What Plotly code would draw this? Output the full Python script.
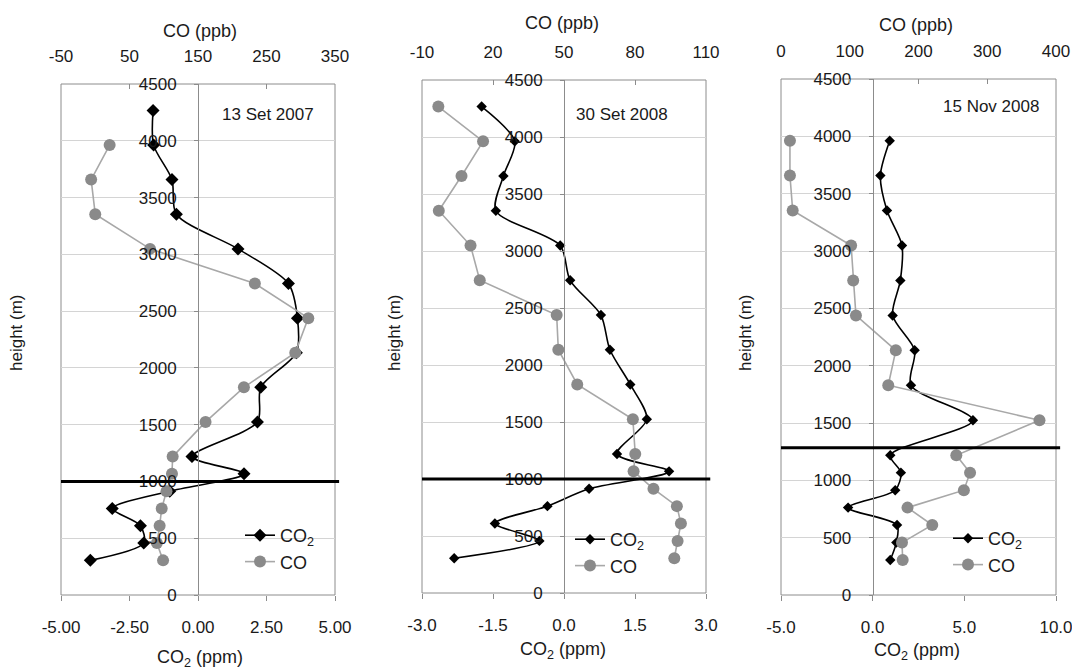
import plotly.graph_objects as go

# ── Dados ────────────────────────────────────────────────────────────────────
HEIGHTS = [305, 457, 610, 762, 914, 1067, 1219, 1524, 1829, 2134,
           2438, 2743, 3048, 3353, 3658, 3962, 4267]

CO2_P1 = [-3.93, -1.98, -2.10, -3.13, -1.03, 1.68, -0.22, 2.17, 2.29, 3.59,
          3.63, 3.30, 1.46, -0.79, -0.95, -1.62, -1.64]
CO_P1 = [99, 90, 94, 97, 104, 112, 113, 161, 217, 292,
         311, 233, 80, 0, -6, 21]

CO2_P2 = [-2.32, -0.52, -1.46, -0.35, 0.53, 2.22, 1.12, 1.75, 1.40, 0.97,
          0.78, 0.13, -0.08, -1.44, -1.28, -1.04, -1.74]
CO_P2 = [96.6, 98.0, 99.4, 97.7, 87.8, 79.4, 80.1, 79.1, 55.6, 47.6,
         46.9, 14.4, 10.5, -2.9, 6.7, 15.8, -3.1]

CO2_P3 = [0.96, 1.29, 1.33, -1.34, 1.23, 1.54, 0.96, 5.47, 2.09, 2.29,
          1.09, 1.51, 1.60, 0.78, 0.42, 0.93]
CO_P3 = [177, 176, 220, 184, 266, 275, 255, 376, 156, 167,
         109, 105, 102, 17, 13, 13]

DATES = ["13 Set 2007", "30 Set 2008", "15 Nov 2008"]
MIX_HEIGHT = [1000, 1000, 1285]

CO2_TICKS = [[-5, -2.5, 0, 2.5, 5], [-3, -1.5, 0, 1.5, 3], [-5, 0, 5, 10]]
CO2_DEC = [2, 1, 1]
CO_TICKS = [[-50, 50, 150, 250, 350], [-10, 20, 50, 80, 110], [0, 100, 200, 300, 400]]
HEIGHT_TICKS = [0, 500, 1000, 1500, 2000, 2500, 3000, 3500, 4000, 4500]

# ── Estilo ───────────────────────────────────────────────────────────────────
W, H = 1080, 669
OFF = 8   # margem do <body> da página
FONT = "Liberation Sans, Arial, sans-serif"
TXT = "#1a1a1a"
GRID = "#d4d4d4"
BOX = "#8c8c8c"
CO_COLOR = "#8a8a8a"
CO_LINE = "#a8a8a8"

# caixas dos painéis em pixels da imagem (esq, dir, topo, base)
PANELS = [(61, 335, 84, 595), (422, 706, 80, 593), (781, 1056, 79, 595)]
DIAMOND = [10, 8, 8]
HEIGHT_LBL_X = [17, 395, 746]
DATE_XY = [(268, 114), (622, 114), (991, 106)]
TOP_TITLE_XY = [(200, 31), (562, 23), (916, 25)]
BOT_TITLE_XY = [(200, 658), (563, 650), (917, 651)]
LEGEND_XY = [(240, 517), (570, 521), (948, 520)]


def px(x):
    return (x - OFF) / (W - OFF)


def py(y):
    return 1 - (y - OFF) / (H - OFF)


def label(v, dec):
    return f"{v:.{dec}f}" if dec else f"{v:g}"


fig = go.Figure()
layout = {}
shapes = []
annotations = []

data = [(CO2_P1, CO_P1), (CO2_P2, CO_P2), (CO2_P3, CO_P3)]

for i, (co2, co) in enumerate(data):
    n = i + 1
    xb, xt, ya = 2 * i + 1, 2 * i + 2, n
    xb_id = "x" if xb == 1 else f"x{xb}"
    xt_id = f"x{xt}"
    y_id = "y" if ya == 1 else f"y{ya}"
    leg = "legend" if n == 1 else f"legend{n}"

    left, right, top, bottom = PANELS[i]
    xdom = [px(left), px(right)]
    ydom = [py(bottom), py(top)]
    lo, hi = CO2_TICKS[i][0], CO2_TICKS[i][-1]
    zero_x = left + (right - left) * (0 - lo) / (hi - lo)

    fig.add_trace(go.Scatter(
        x=co2, y=HEIGHTS[:len(co2)], name="CO<sub>2</sub>",
        xaxis=xb_id, yaxis=y_id, legend=leg,
        mode="lines+markers",
        line=dict(color="black", width=1.6, shape="spline", smoothing=0.8),
        marker=dict(symbol="diamond", size=DIAMOND[i], color="black"),
    ))
    fig.add_trace(go.Scatter(
        x=co, y=HEIGHTS[:len(co)], name="CO",
        xaxis=xt_id, yaxis=y_id, legend=leg,
        mode="lines+markers",
        line=dict(color=CO_LINE, width=1.6),
        marker=dict(symbol="circle", size=12, color=CO_COLOR),
    ))

    tickfont = dict(family=FONT, size=17, color=TXT)
    layout[f"xaxis{'' if xb == 1 else xb}"] = dict(
        domain=xdom, anchor=y_id, range=[lo, hi],
        tickvals=CO2_TICKS[i], ticktext=[label(v, CO2_DEC[i]) for v in CO2_TICKS[i]],
        showgrid=False, zeroline=False,
        showline=False, ticks="outside", ticklen=5, tickcolor=BOX,
        ticklabelstandoff=12, tickfont=tickfont, automargin=False,
    )
    layout[f"xaxis{xt}"] = dict(
        overlaying=xb_id, side="top", anchor=y_id,
        range=[CO_TICKS[i][0], CO_TICKS[i][-1]],
        tickvals=CO_TICKS[i], ticktext=[label(v, 0) for v in CO_TICKS[i]],
        showgrid=False, zeroline=False,
        showline=False, ticks="inside", ticklen=5, tickcolor=BOX,
        ticklabelstandoff=18, tickfont=tickfont, automargin=False,
    )
    layout[f"yaxis{'' if ya == 1 else ya}"] = dict(
        domain=ydom, anchor="free", position=px(zero_x),
        range=[HEIGHT_TICKS[0], HEIGHT_TICKS[-1]],
        tickvals=HEIGHT_TICKS, ticktext=[str(v) for v in HEIGHT_TICKS],
        showgrid=True, gridcolor=GRID,
        zeroline=False, showline=True, linecolor=BOX, linewidth=1,
        ticks="outside", ticklen=4, tickcolor=BOX, ticklabelstandoff=14,
        tickfont=tickfont, automargin=False,
    )

    # moldura do painel
    shapes.append(dict(type="rect", xref=f"{xb_id} domain", yref=f"{y_id} domain",
                       x0=0, x1=1, y0=0, y1=1, line=dict(color=BOX, width=1),
                       layer="below"))
    # altura da camada de mistura
    shapes.append(dict(type="line", xref=f"{xb_id} domain", yref=y_id,
                       x0=0, x1=1.015, y0=MIX_HEIGHT[i], y1=MIX_HEIGHT[i],
                       line=dict(color="black", width=3)))

    def note(text, x, y, size, angle=0):
        annotations.append(dict(text=text, x=px(x), y=py(y), xref="paper",
                                yref="paper", xanchor="center", yanchor="middle",
                                showarrow=False, textangle=angle,
                                font=dict(family=FONT, size=size, color=TXT)))

    note(DATES[i], *DATE_XY[i], 17)
    note("CO (ppb)", *TOP_TITLE_XY[i], 18)
    note("CO<sub>2</sub> (ppm)", *BOT_TITLE_XY[i], 18)
    note("height (m)", HEIGHT_LBL_X[i], 333, 17, -90)

    lx, ly = LEGEND_XY[i]
    layout[leg] = dict(x=px(lx), y=py(ly), xanchor="left", yanchor="top",
                       bgcolor="rgba(0,0,0,0)", borderwidth=0,
                       font=dict(family=FONT, size=18, color=TXT),
                       tracegroupgap=0)

fig.update_layout(
    width=W - OFF, height=H - OFF,
    margin=dict(l=0, r=0, t=0, b=0, autoexpand=False),
    paper_bgcolor="white", plot_bgcolor="white",
    font=dict(family=FONT, color=TXT),
    shapes=shapes, annotations=annotations,
    **layout,
)

fig.write_html("out.html")
